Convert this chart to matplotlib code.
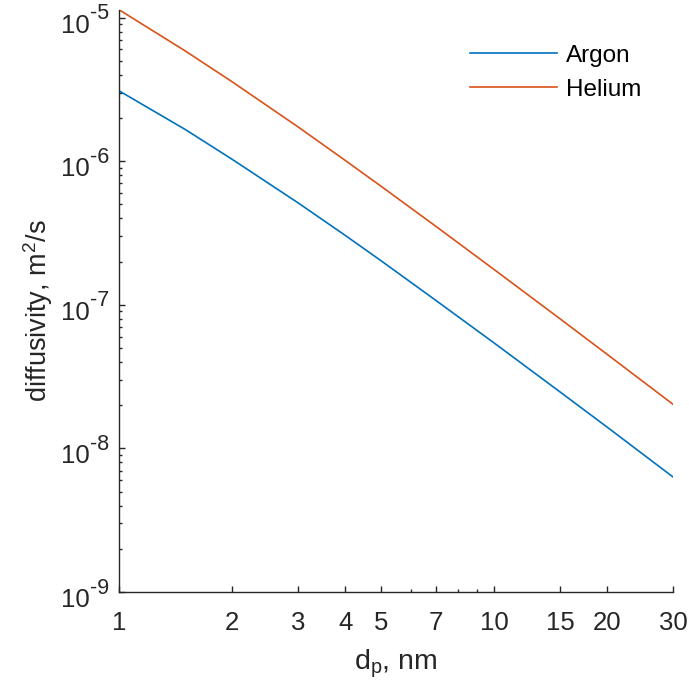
import matplotlib
matplotlib.use("Agg")
import matplotlib.pyplot as plt
from matplotlib.ticker import FixedLocator, FixedFormatter, LogLocator, NullFormatter

plt.rcParams['font.family'] = ['Liberation Sans', 'DejaVu Sans']
plt.rcParams['mathtext.fontset'] = 'custom'
plt.rcParams['mathtext.rm'] = 'Liberation Sans'
plt.rcParams['mathtext.it'] = 'Liberation Sans'
plt.rcParams['mathtext.default'] = 'regular'

# particle diameter, nm
diameter_nm = [1, 1.5, 2, 3, 4, 5, 7, 10, 15, 20, 30]
# diffusion coefficient, m^2/s
argon = [3.08e-6, 1.66e-6, 1.03e-6, 5.12e-7, 3.05e-7, 2.02e-7,
         1.07e-7, 5.42e-8, 2.47e-8, 1.41e-8, 6.33e-9]
helium = [1.13e-5, 5.85e-6, 3.57e-6, 1.73e-6, 1.015e-6, 6.67e-7,
          3.51e-7, 1.76e-7, 7.98e-8, 4.53e-8, 2.03e-8]

x_ticks = [1, 2, 3, 4, 5, 7, 10, 15, 20, 30]
x_minor = [6, 8, 9]
y_ticks = [1e-9, 1e-8, 1e-7, 1e-6, 1e-5]
y_exponents = ['-9', '-8', '-7', '-6', '-5']

blue = '#0072BD'
orange = '#D95319'
dark = '#262626'

fig = plt.figure(figsize=(6.89, 6.95), dpi=100)
ax = fig.add_axes([0.1734, 0.1482, 0.8033, 0.8374])

ax.plot(diameter_nm, argon, color=blue, lw=1.2, label='Argon')
ax.plot(diameter_nm, helium, color=orange, lw=1.2, label='Helium')

ax.set_xscale('log')
ax.set_yscale('log')
ax.set_xlim(1, 30)
ax.set_ylim(1e-9, max(helium))

ax.xaxis.set_major_locator(FixedLocator(x_ticks))
ax.xaxis.set_major_formatter(FixedFormatter([str(t) for t in x_ticks]))
ax.xaxis.set_minor_locator(FixedLocator(x_minor))
ax.xaxis.set_minor_formatter(NullFormatter())

ax.yaxis.set_major_locator(FixedLocator(y_ticks))
ax.yaxis.set_major_formatter(NullFormatter())
ax.yaxis.set_minor_locator(LogLocator(base=10, subs=range(2, 10), numticks=20))
ax.yaxis.set_minor_formatter(NullFormatter())

# power-of-ten labels with a large, slightly lowered exponent
ytrans = ax.get_yaxis_transform()
for val, exp in zip(y_ticks, y_exponents):
    ax.annotate('10', xy=(0, val), xycoords=ytrans, xytext=(-29.5, -15),
                textcoords='offset pixels', ha='right', va='baseline',
                fontsize=18.5, color=dark, annotation_clip=False)
    ax.annotate(exp, xy=(0, val), xycoords=ytrans, xytext=(-29.5, -1.5),
                textcoords='offset pixels', ha='left', va='baseline',
                fontsize=15.5, color=dark, annotation_clip=False)

for side in ('top', 'right'):
    ax.spines[side].set_visible(False)
for side in ('left', 'bottom'):
    ax.spines[side].set_color(dark)
    ax.spines[side].set_linewidth(1.0)

ax.tick_params(which='major', direction='in', length=4.5, width=1.0,
               color=dark, labelsize=18.5, labelcolor=dark)
ax.tick_params(axis='x', which='major', pad=14)
ax.tick_params(which='minor', direction='in', length=2.5, width=1.0,
               color=dark)

ax.set_xlabel('d$_p$, nm', fontsize=20.5, color=dark, labelpad=8.5)
ax.set_ylabel('diffusivity, m$^2$/s', fontsize=19.5, color=dark)
ax.yaxis.set_label_coords(-0.117, 0.483)

ax.legend(loc='upper right', frameon=False, fontsize=17.5,
          handlelength=3.6, handletextpad=0.35, labelspacing=0.5,
          bbox_to_anchor=(0.982, 0.978))

fig.savefig('out.png', dpi=100, facecolor='white')
